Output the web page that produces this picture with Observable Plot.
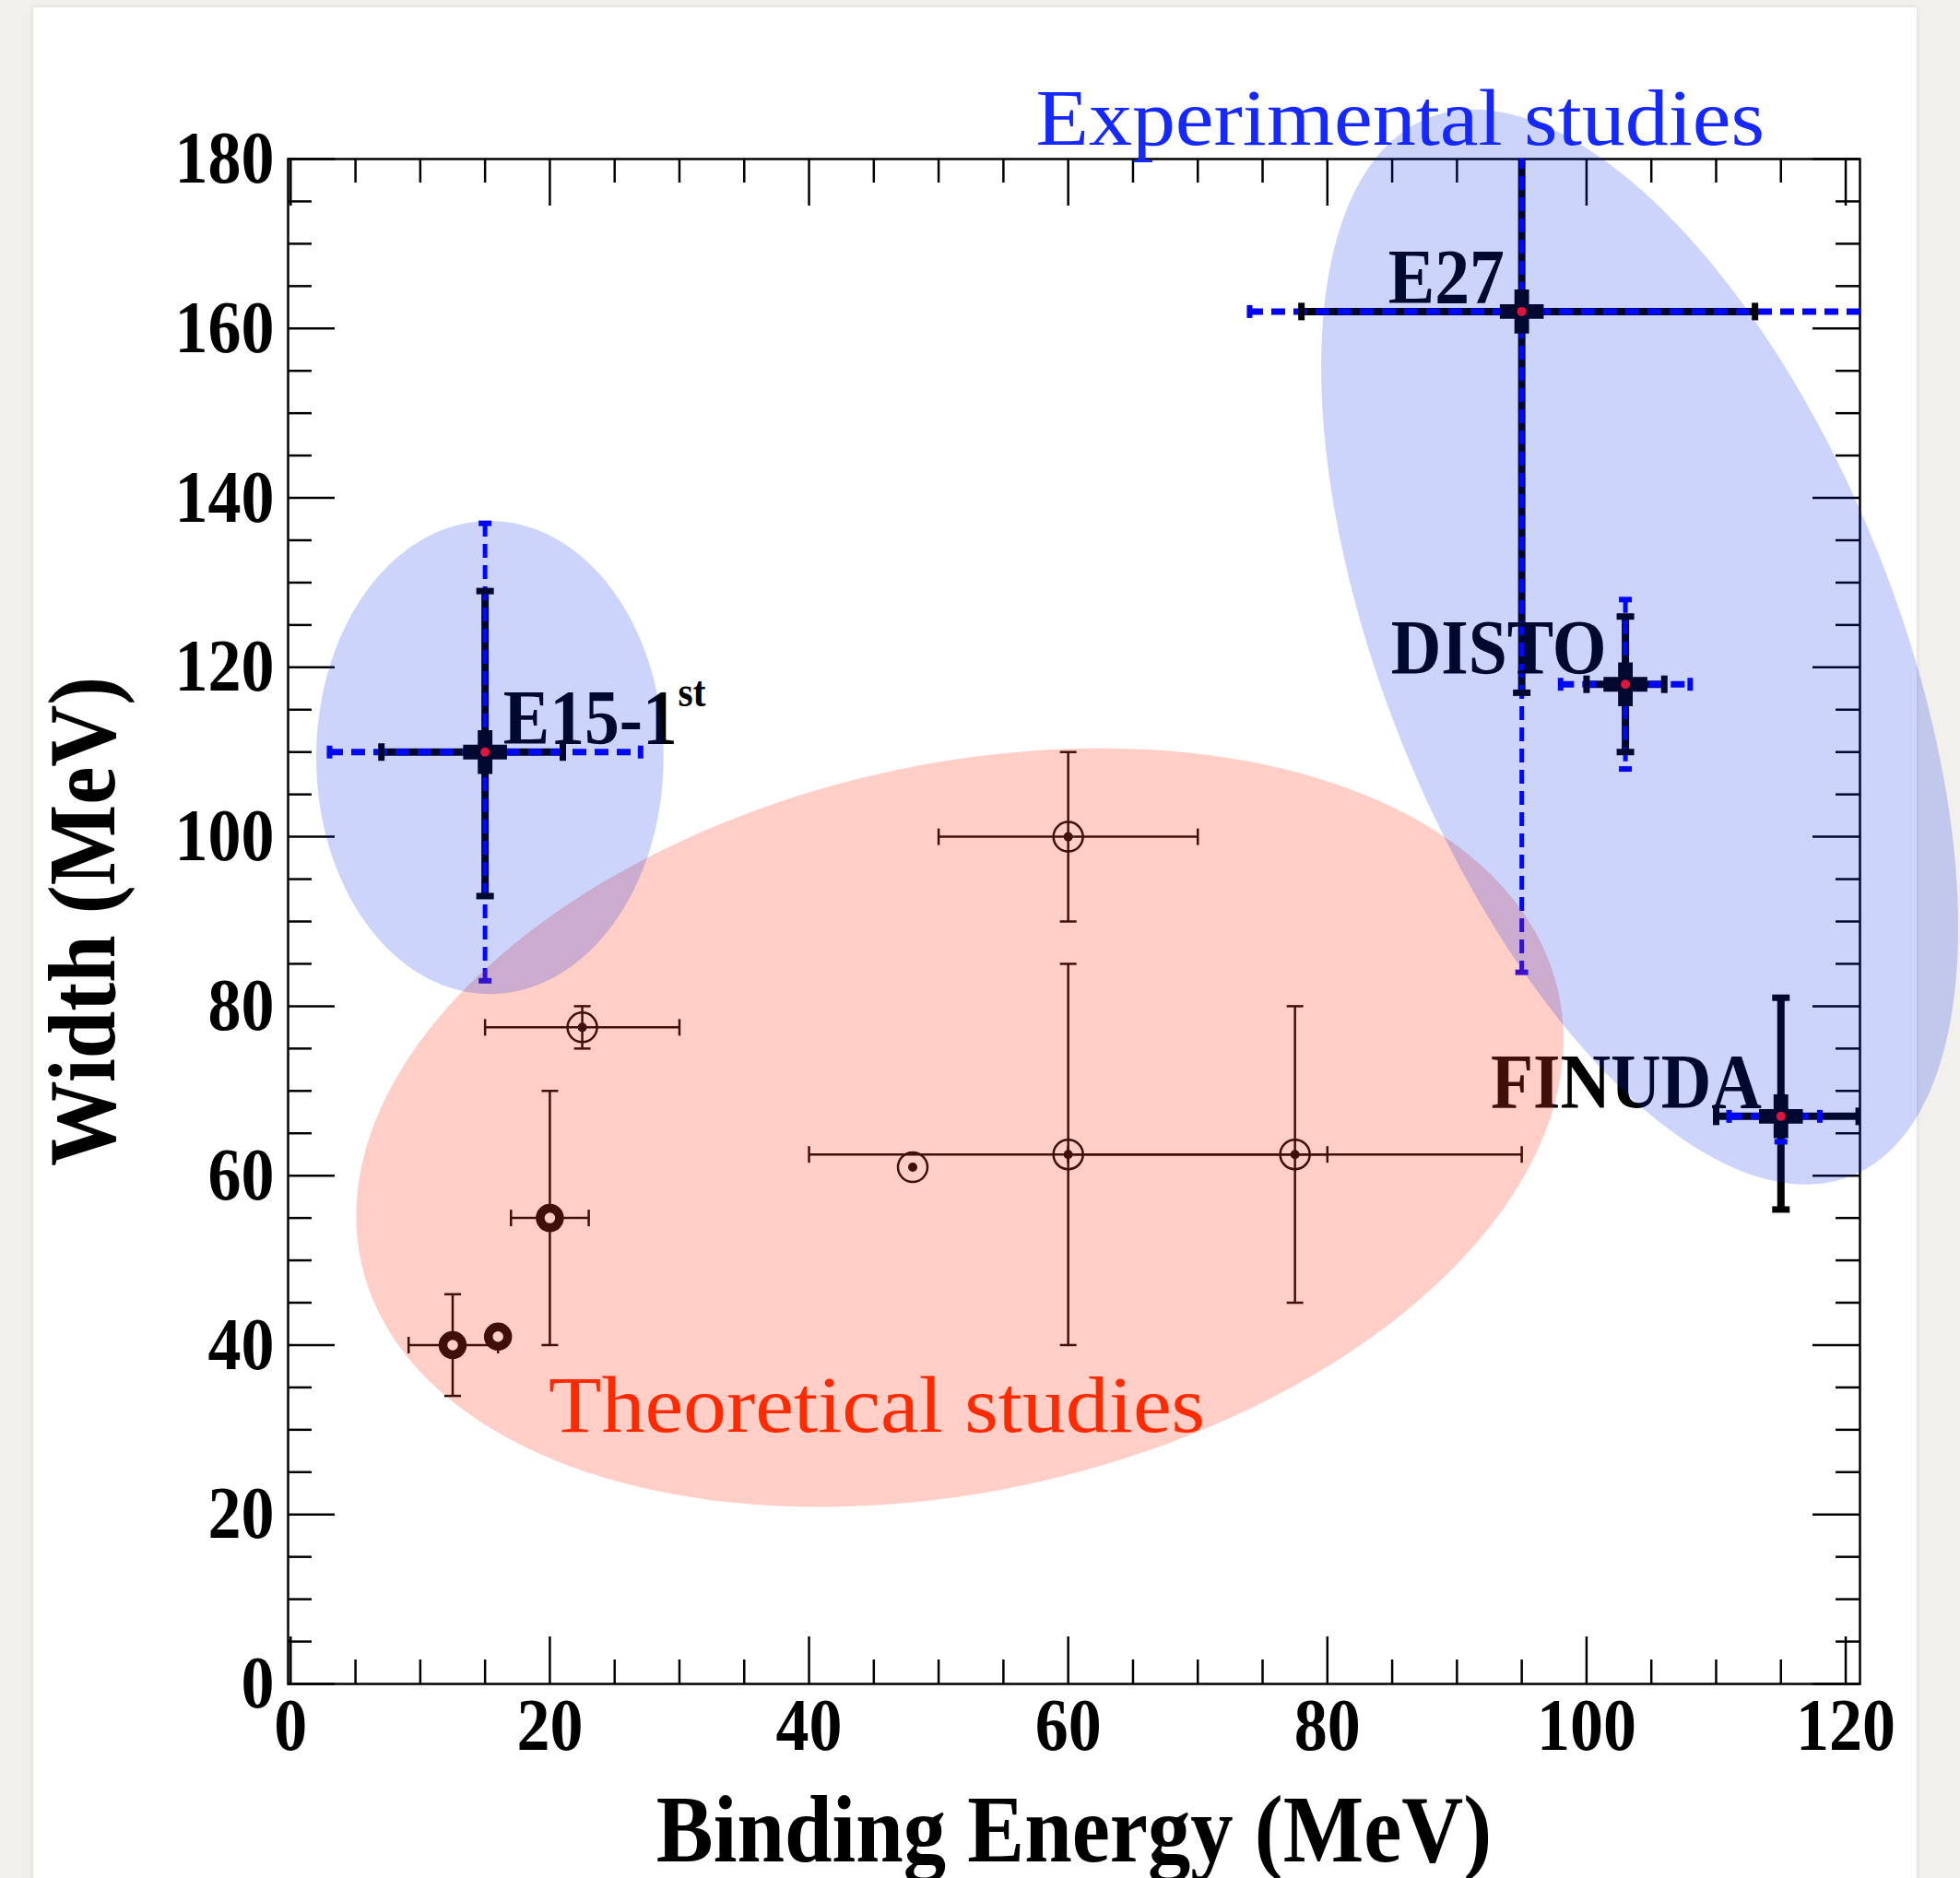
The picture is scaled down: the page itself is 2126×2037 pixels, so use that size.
<!DOCTYPE html>
<html>
<head>
<meta charset="utf-8">
<script src="https://cdn.jsdelivr.net/npm/d3@7"></script>
<script src="https://cdn.jsdelivr.net/npm/@observablehq/plot@0.6"></script>
<style>
  html, body { margin: 0; padding: 0; overflow: hidden; background: #f2f0eb; }
  #panel { position: absolute; left: 36px; top: 8px; width: 2043px; height: 2040px; background: #ffffff; box-shadow: 0 0 6px rgba(0,0,0,0.10); }
  #chart { position: absolute; left: 0; top: 0; }
  #chart g[aria-label$="tick label"] { font-weight: bold; }
</style>
</head>
<body>
<div id="panel"></div>
<div id="chart"></div>
<script>
// ---------------- axis ticks ----------------
const xMajorTicks = [0, 20, 40, 60, 80, 100, 120];
const xMinorTicks = [5, 10, 15, 25, 30, 35, 45, 50, 55, 65, 70, 75, 85, 90, 95, 105, 110, 115];
const yMajorTicks = [0, 20, 40, 60, 80, 100, 120, 140, 160, 180];
const yMinorTicks = [5, 10, 15, 25, 30, 35, 45, 50, 55, 65, 70, 75, 85, 90, 95, 105, 110, 115,
                     125, 130, 135, 145, 150, 155, 165, 170, 175];
const xDomain = [-0.2, 121.1];
const yDomain = [0, 180];

// ---------------- experimental results ----------------
const expNames   = ["E15-1st", "E27", "DISTO", "FINUDA"];
const expB       = [15, 95, 103, 115];
const expW       = [110, 162, 118, 67];
const expStatBLo = [7, 78, 100, 110];
const expStatBHi = [21, 113, 106, 121];
const expStatWLo = [93, 117, 110, 56];
const expStatWHi = [129, 249, 126, 81];
const expSystBLo = [3, 74, 98, 111];
const expSystBHi = [27, 125, 108, 118];
const expSystWLo = [83, 84, 108, 64];
const expSystWHi = [137, 228, 128, 69];

// ---------------- theoretical predictions ----------------
const thB    = [60, 22.5, 20, 12.5, 16, 48, 60, 77.5];
const thW    = [100, 77.5, 55, 40, 41, 61, 62.5, 62.5];
const thBLo  = [50, 15, 17, 9.1, null, null, 40, 60];
const thBHi  = [70, 30, 23, 16, null, null, 80, 95];
const thWLo  = [90, 75, 40, 34, null, null, 40, 45];
const thWHi  = [110, 80, 70, 46, null, null, 85, 80];
const thStyle = ["open", "open", "bold", "bold", "bold", "open", "open", "open"];

// ---------------- annotations ----------------
const labelNames = ["E27", "DISTO", "FINUDA", "E15-1"];
const labelB = [84.7, 84.9, 92.6, 16.4];
const labelW = [163.0, 119.2, 68.0, 111.0];
const supNames = ["st"];
const supB = [29.9];
const supW = [115.4];
const groupNames  = ["Experimental studies", "Theoretical studies"];
const groupColors = ["#1428ff", "#ff2a00"];
const groupB = [57.5, 19.9];
const groupW = [181.7, 29.8];

// ---------------- highlight ellipses (centre + two semi-axis vectors, data units) ----------------
const ellNames  = ["theory", "E15", "experiments"];
const ellColors = ["#fa3c1e", "#0028f0", "#0028f0"];
const ellOpac   = [0.25, 0.2, 0.2];
const ellCB = [51.64, 15.37, 104.1];
const ellCW = [65.67, 109.36, 122.4];
const ellA  = [[46.16, 16.17], [13.40, 0], [16.33, -62.44]];
const ellV  = [[6.26, -41.75], [0, 27.92], [-18.37, -11.23]];

// ------------------------------------------------------------------
const expIdx = expNames.map((_, i) => i);
const thIdx = thB.map((_, i) => i);
const thXerr = thIdx.filter(i => thBLo[i] != null);
const thYerr = thIdx.filter(i => thWLo[i] != null);
const thOpen = thIdx.filter(i => thStyle[i] === "open");
const thBold = thIdx.filter(i => thStyle[i] === "bold");

function ellipseOutline(i) {
  return d3.range(0, 360, 2).map(a => {
    const t = a * Math.PI / 180, c = Math.cos(t), s = Math.sin(t);
    return {b: ellCB[i] + c * ellA[i][0] + s * ellV[i][0], w: ellCW[i] + c * ellA[i][1] + s * ellV[i][1]};
  });
}

// short line symbols for error-bar caps
const vCap = {draw(ctx, size) { const r = Math.sqrt(size / Math.PI); ctx.moveTo(0, -r); ctx.lineTo(0, r); }};
const hCap = {draw(ctx, size) { const r = Math.sqrt(size / Math.PI); ctx.moveTo(-r, 0); ctx.lineTo(r, 0); }};

const pxX = 1705 / (xDomain[1] - xDomain[0]);
const pxY = 1654 / (yDomain[1] - yDomain[0]);
const majX = 51 / pxX, minX = 26 / pxX, majY = 51 / pxY, minY = 26 / pxY;

const FONT = "Liberation Serif";
const tickStyle = {stroke: "#000", strokeWidth: 2.5};

const marks = [
  // ticks (inward, all four sides)
  Plot.ruleX(xMajorTicks, {x: d => d, y1: yDomain[0], y2: yDomain[0] + majY, ...tickStyle}),
  Plot.ruleX(xMinorTicks, {x: d => d, y1: yDomain[0], y2: yDomain[0] + minY, ...tickStyle}),
  Plot.ruleX(xMajorTicks, {x: d => d, y1: yDomain[1] - majY, y2: yDomain[1], ...tickStyle}),
  Plot.ruleX(xMinorTicks, {x: d => d, y1: yDomain[1] - minY, y2: yDomain[1], ...tickStyle}),
  Plot.ruleY(yMajorTicks, {y: d => d, x1: xDomain[0], x2: xDomain[0] + majX, ...tickStyle}),
  Plot.ruleY(yMinorTicks, {y: d => d, x1: xDomain[0], x2: xDomain[0] + minX, ...tickStyle}),
  Plot.ruleY(yMajorTicks, {y: d => d, x1: xDomain[1] - majX, x2: xDomain[1], ...tickStyle}),
  Plot.ruleY(yMinorTicks, {y: d => d, x1: xDomain[1] - minX, x2: xDomain[1], ...tickStyle}),
  Plot.frame({stroke: "#000", strokeWidth: 2.5}),
  Plot.axisX({ticks: xMajorTicks, tickSize: 0, tickPadding: 15, fontSize: 80, fontWeight: "bold", fontFamily: FONT, fill: "#000", label: null}),
  Plot.axisY({ticks: yMajorTicks, tickSize: 0, tickPadding: 15, fontSize: 80, fontWeight: "bold", fontFamily: FONT, fill: "#000", label: null}),
  Plot.text(["Binding Energy (MeV)"], {frameAnchor: "bottom", dy: 192, textAnchor: "middle", lineAnchor: "bottom", fontSize: 103, fontWeight: "bold", fontFamily: FONT, fill: "#000"}),
  Plot.text(["Width (MeV)"], {frameAnchor: "left", dx: -189, rotate: -90, textAnchor: "middle", lineAnchor: "bottom", fontSize: 103, fontWeight: "bold", fontFamily: FONT, fill: "#000"}),

  // theoretical error bars
  Plot.ruleY(thXerr, {y: i => thW[i], x1: i => thBLo[i], x2: i => thBHi[i], stroke: "#000", strokeWidth: 2.5}),
  Plot.ruleX(thYerr, {x: i => thB[i], y1: i => thWLo[i], y2: i => thWHi[i], stroke: "#000", strokeWidth: 2.5}),
  Plot.dot(thXerr, {x: i => thBLo[i], y: i => thW[i], symbol: vCap, r: 9, stroke: "#000", fill: "none", strokeWidth: 2.5}),
  Plot.dot(thXerr, {x: i => thBHi[i], y: i => thW[i], symbol: vCap, r: 9, stroke: "#000", fill: "none", strokeWidth: 2.5}),
  Plot.dot(thYerr, {x: i => thB[i], y: i => thWLo[i], symbol: hCap, r: 9, stroke: "#000", fill: "none", strokeWidth: 2.5}),
  Plot.dot(thYerr, {x: i => thB[i], y: i => thWHi[i], symbol: hCap, r: 9, stroke: "#000", fill: "none", strokeWidth: 2.5}),
  Plot.dot(thOpen, {x: i => thB[i], y: i => thW[i], r: 16, stroke: "#000", strokeWidth: 2.5, fill: "none"}),
  Plot.dot(thOpen, {x: i => thB[i], y: i => thW[i], r: 5, fill: "#000", stroke: "none"}),
  Plot.dot(thBold, {x: i => thB[i], y: i => thW[i], r: 10.5, stroke: "#000", strokeWidth: 9.5, fill: "#fff"}),

  // experimental: statistical (solid black) then systematic (blue dashed)
  Plot.ruleY(expIdx, {y: i => expW[i], x1: i => expStatBLo[i], x2: i => expStatBHi[i], stroke: "#000", strokeWidth: 8, clip: true}),
  Plot.ruleX(expIdx, {x: i => expB[i], y1: i => expStatWLo[i], y2: i => expStatWHi[i], stroke: "#000", strokeWidth: 8, clip: true}),
  Plot.ruleY(expIdx, {y: i => expW[i], x1: i => expSystBLo[i], x2: i => expSystBHi[i], stroke: "#0000ff", strokeWidth: 7, strokeDasharray: "15,9", clip: true}),
  Plot.ruleX(expIdx, {x: i => expB[i], y1: i => expSystWHi[i], y2: i => expSystWLo[i], stroke: "#0000ff", strokeWidth: 5, strokeDasharray: "15,8", clip: true}),
  Plot.dot(expIdx, {x: i => expSystBLo[i], y: i => expW[i], symbol: vCap, r: 7, stroke: "#0000ff", strokeWidth: 6, clip: true}),
  Plot.dot(expIdx, {x: i => expSystBHi[i], y: i => expW[i], symbol: vCap, r: 7, stroke: "#0000ff", strokeWidth: 6, clip: true}),
  Plot.dot(expIdx, {x: i => expB[i], y: i => expSystWLo[i], symbol: hCap, r: 7, stroke: "#0000ff", strokeWidth: 6, clip: true}),
  Plot.dot(expIdx, {x: i => expB[i], y: i => expSystWHi[i], symbol: hCap, r: 7, stroke: "#0000ff", strokeWidth: 6, clip: true}),
  Plot.dot(expIdx, {x: i => expStatBLo[i], y: i => expW[i], symbol: vCap, r: 9.5, stroke: "#000", strokeWidth: 7, clip: true}),
  Plot.dot(expIdx, {x: i => expStatBHi[i], y: i => expW[i], symbol: vCap, r: 9.5, stroke: "#000", strokeWidth: 7, clip: true}),
  Plot.dot(expIdx, {x: i => expB[i], y: i => expStatWLo[i], symbol: hCap, r: 9.5, stroke: "#000", strokeWidth: 7, clip: true}),
  Plot.dot(expIdx, {x: i => expB[i], y: i => expStatWHi[i], symbol: hCap, r: 9.5, stroke: "#000", strokeWidth: 7, clip: true}),
  Plot.dot(expIdx, {x: i => expB[i], y: i => expW[i], symbol: "cross", r: 20, fill: "#000", stroke: "none"}),

  // experiment names
  Plot.text(labelNames.map((_, i) => i), {x: i => labelB[i], y: i => labelW[i], text: i => labelNames[i], textAnchor: "start", lineAnchor: "bottom", fontSize: 84, fontWeight: "bold", fontFamily: FONT, fill: "#000"}),
  Plot.text(supNames.map((_, i) => i), {x: i => supB[i], y: i => supW[i], text: i => supNames[i], textAnchor: "start", lineAnchor: "bottom", fontSize: 46, fontWeight: "bold", fontFamily: FONT, fill: "#000"}),

  // highlight ellipses (drawn over the data, translucent)
  ...ellNames.map((_, i) => Plot.line(ellipseOutline(i), {x: "b", y: "w", curve: "linear-closed", fill: ellColors[i], fillOpacity: ellOpac[i], stroke: "none"})),

  // central red points of the experiments
  Plot.dot(expIdx, {x: i => expB[i], y: i => expW[i], r: 5, fill: "#e0143c", stroke: "none"}),

  // group labels
  Plot.text(groupNames.map((_, i) => i), {x: i => groupB[i], y: i => groupW[i], text: i => groupNames[i], fill: i => groupColors[i], textAnchor: "start", lineAnchor: "bottom", fontSize: 87, fontFamily: FONT})
];

const chart = Plot.plot({
  width: 2126,
  height: 2037,
  marginLeft: 312,
  marginRight: 109,
  marginTop: 172,
  marginBottom: 211,
  x: {domain: xDomain},
  y: {domain: yDomain},
  color: {type: "identity"},
  style: {background: "transparent", overflow: "visible"},
  marks
});

// ROOT-style condensed bold serif; the coloured group labels are a little wider
chart.querySelectorAll("text").forEach(t => {
  const wide = groupNames.includes(t.textContent);
  const s = wide ? 1.08 : 0.9;
  const tr = t.getAttribute("transform");
  if (tr) t.setAttribute("transform", tr + ` scale(${s},1)`);
});

document.getElementById("chart").appendChild(chart);
</script>
</body>
</html>
